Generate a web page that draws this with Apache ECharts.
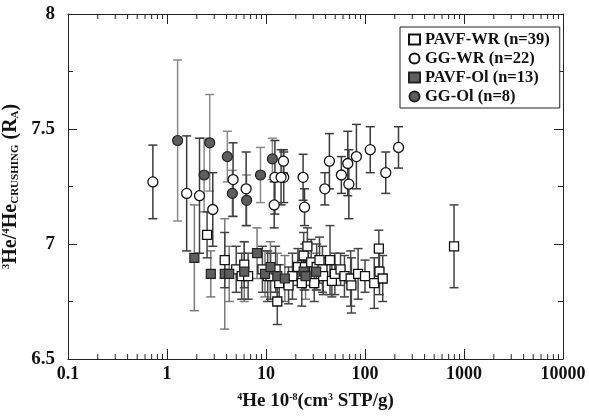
<!DOCTYPE html>
<html>
<head>
<meta charset="utf-8">
<script src="https://cdn.jsdelivr.net/npm/echarts@6/dist/echarts.min.js"></script>
<style>
  html, body { margin: 0; padding: 0; background: #fff; }
  #chart { width: 589px; height: 419px; }
</style>
</head>
<body>
<div id="chart"></div>
<script>
// PAVF-WR (open squares)
var pavfWrX = [2.54, 3.83, 5.0, 5.68, 6.03, 6.6, 9.2, 10.4, 11.1, 12.5, 13.0, 13.6, 16.9, 18.5, 21, 23, 24.0, 24.7, 26.2, 28.6,
  30.7, 32.5, 34.7, 37.2, 37.8, 44.3, 46.3, 49.6, 56.6, 62, 71.6, 72.9, 85.2, 100, 124, 138, 140, 151, 793];
var pavfWrY = [7.04, 6.93, 6.89, 6.86, 6.91, 6.86, 6.89, 6.86, 6.86, 6.89, 6.75, 6.83, 6.82, 6.86, 6.90, 6.83, 6.95, 6.90, 6.99, 6.92,
  6.83, 6.90, 6.93, 6.89, 6.86, 6.93, 6.84, 6.87, 6.89, 6.86, 6.85, 6.82, 6.87, 6.86, 6.83, 6.98, 6.88, 6.85, 6.99];
var pavfWrErr = [0.10, 0.12, 0.10, 0.10, 0.10, 0.10, 0.10, 0.11, 0.10, 0.10, 0.10, 0.08, 0.08, 0.10, 0.08, 0.10, 0.10, 0.10, 0.08, 0.10,
  0.08, 0.10, 0.10, 0.10, 0.08, 0.15, 0.07, 0.09, 0.07, 0.09, 0.12, 0.12, 0.11, 0.07, 0.11, 0.08, 0.10, 0.10, 0.18];

// GG-WR (open circles)
var ggWrX = [0.72, 1.58, 2.13, 2.90, 4.65, 6.3, 12.1, 12.3, 15.0, 15.1, 23.7, 24.5, 39.3, 43.7, 57.7, 67, 68.7, 81.9, 113, 162, 218, 14.2];
var ggWrY = [7.27, 7.22, 7.21, 7.15, 7.28, 7.24, 7.17, 7.29, 7.36, 7.29, 7.29, 7.16, 7.24, 7.36, 7.30, 7.35, 7.26, 7.38, 7.41, 7.31, 7.42, 7.29];
var ggWrErr = [0.16, 0.25, 0.25, 0.16, 0.16, 0.16, 0.10, 0.16, 0.05, 0.11, 0.10, 0.08, 0.07, 0.12, 0.08, 0.14, 0.15, 0.14, 0.10, 0.09, 0.09, 0.12];

// PAVF-Ol (dark squares)
var pavfOlX = [1.89, 2.77, 3.83, 4.25, 6.03, 8.12, 9.77, 11.1, 13.0, 15.5, 24.0, 25.1, 32.1];
var pavfOlY = [6.94, 6.87, 6.87, 6.87, 6.88, 6.96, 6.87, 6.90, 6.86, 6.85, 6.88, 6.86, 6.88];
var pavfOlErr = [0.23, 0.10, 0.24, 0.12, 0.13, 0.11, 0.10, 0.11, 0.10, 0.10, 0.08, 0.10, 0.08];

// GG-Ol (dark circles)
var ggOlX = [1.28, 2.37, 2.70, 4.07, 4.57, 6.37, 8.8, 11.6];
var ggOlY = [7.45, 7.30, 7.44, 7.38, 7.22, 7.19, 7.30, 7.37];
var ggOlErr = [0.35, 0.16, 0.21, 0.11, 0.10, 0.11, 0.12, 0.09];

var xMinorTicks = [];
[0.1, 1, 10, 100, 1000].forEach(function (d) {
  for (var k = 2; k <= 9; k++) xMinorTicks.push(d * k);
});

var font = 'Liberation Serif';

function zip(xs, ys, es) {
  return xs.map(function (x, i) { return es ? [x, ys[i], es[i]] : [x, ys[i]]; });
}

// 误差线
function errorSeries(data, color) {
  return {
    type: 'custom',
    silent: true,
    z: 2,
    renderItem: function (params, api) {
      var x = api.value(0), y = api.value(1), e = api.value(2);
      var hi = api.coord([x, y + e]);
      var lo = api.coord([x, y - e]);
      var w = 4.5;
      var st = { stroke: color, lineWidth: 1.5 };
      return {
        type: 'group',
        children: [
          { type: 'line', shape: { x1: hi[0], y1: hi[1], x2: lo[0], y2: lo[1] }, style: st },
          { type: 'line', shape: { x1: hi[0] - w, y1: hi[1], x2: hi[0] + w, y2: hi[1] }, style: st },
          { type: 'line', shape: { x1: lo[0] - w, y1: lo[1], x2: lo[0] + w, y2: lo[1] }, style: st }
        ]
      };
    },
    encode: { x: 0, y: 1 },
    data: data
  };
}

var chart = echarts.init(document.getElementById('chart'));

var option = {
  animation: false,
  backgroundColor: '#fff',
  grid: { left: 68, right: 26, top: 14, bottom: 60, outerBoundsMode: 'none', containLabel: false },
  legend: {
    orient: 'vertical',
    left: 400,
    top: 27,
    padding: [4, 10, 3, 8],
    itemGap: 2,
    itemWidth: 11,
    itemHeight: 10,
    borderColor: '#222',
    borderWidth: 1,
    backgroundColor: '#fff',
    textStyle: { fontFamily: font, fontWeight: 'bold', fontSize: 16.5, color: '#111' },
    data: ['PAVF-WR (n=39)', 'GG-WR (n=22)', 'PAVF-Ol (n=13)', 'GG-Ol (n=8)']
  },
  xAxis: [{
    type: 'log',
    logBase: 10,
    min: 0.1,
    max: 10000,
    name: '{sup|4}He 10{sup|-8}(cm{sup|3} STP/g)',
    nameLocation: 'middle',
    nameGap: 33,
    nameTextStyle: {
      fontFamily: font, fontWeight: 'bold', fontSize: 19, color: '#111',
      rich: {
        sup: { fontFamily: font, fontWeight: 'bold', fontSize: 10, verticalAlign: 'top', lineHeight: 10, padding: [0, 0, 9, 0] }
      }
    },
    axisLine: { lineStyle: { color: '#222', width: 1 } },
    axisTick: { inside: true, length: 10, lineStyle: { color: '#222' } },
    axisLabel: {
      fontFamily: font, fontWeight: 'bold', fontSize: 18, color: '#111', margin: 6,
      formatter: function (v) { return String(Number(v.toPrecision(3))); }
    },
    splitLine: { show: false }
  }, {
    type: 'log',
    logBase: 10,
    min: 0.1,
    max: 10000,
    position: 'top',
    axisLine: { lineStyle: { color: '#222', width: 1 } },
    axisTick: { inside: true, length: 10, lineStyle: { color: '#222' } },
    axisLabel: { show: false },
    splitLine: { show: false }
  }],
  yAxis: [{
    type: 'value',
    min: 6.5,
    max: 8,
    interval: 0.5,
    name: '{sup|3}He/{sup|4}He{sub|CRUSHING} (R{sub|A})',
    nameLocation: 'middle',
    nameGap: 44,
    nameTextStyle: {
      fontFamily: font, fontWeight: 'bold', fontSize: 20, color: '#111',
      rich: {
        sup: { fontFamily: font, fontWeight: 'bold', fontSize: 11, verticalAlign: 'top', padding: [0, 0, 9, 0] },
        sub: { fontFamily: font, fontWeight: 'bold', fontSize: 11, verticalAlign: 'bottom', padding: [7, 0, 0, 0] }
      }
    },
    axisLine: { show: true, lineStyle: { color: '#222', width: 1 } },
    axisTick: { inside: true, length: 9, lineStyle: { color: '#222' } },
    minorTick: { show: true, splitNumber: 2, length: 5, lineStyle: { color: '#222' } },
    axisLabel: { fontFamily: font, fontWeight: 'bold', fontSize: 19, color: '#111', margin: 13 },
    splitLine: { show: false }
  }, {
    type: 'value',
    min: 6.5,
    max: 8,
    interval: 0.5,
    position: 'right',
    axisLine: { show: true, lineStyle: { color: '#222', width: 1 } },
    axisTick: { inside: true, length: 9, lineStyle: { color: '#222' } },
    minorTick: { show: true, splitNumber: 2, length: 5, lineStyle: { color: '#222' } },
    axisLabel: { show: false },
    splitLine: { show: false }
  }],
  series: [
    // 对数轴的次刻度
    {
      type: 'custom',
      silent: true,
      z: 1,
      renderItem: function (params, api) {
        var p = api.coord([api.value(0), 7]);
        var cs = params.coordSys;
        var st = { stroke: '#222', lineWidth: 1 };
        return {
          type: 'group',
          children: [
            { type: 'line', shape: { x1: p[0], y1: cs.y + cs.height, x2: p[0], y2: cs.y + cs.height - 5 }, style: st },
            { type: 'line', shape: { x1: p[0], y1: cs.y, x2: p[0], y2: cs.y + 5 }, style: st }
          ]
        };
      },
      encode: { x: 0 },
      data: xMinorTicks.map(function (v) { return [v]; })
    },
    errorSeries(zip(ggOlX, ggOlY, ggOlErr), '#8a8a8a'),
    errorSeries(zip(pavfOlX, pavfOlY, pavfOlErr), '#7a7a7a'),
    errorSeries(zip(ggWrX, ggWrY, ggWrErr), '#3a3a3a'),
    errorSeries(zip(pavfWrX, pavfWrY, pavfWrErr), '#444'),
    {
      name: 'PAVF-WR (n=39)',
      type: 'scatter',
      symbol: 'rect',
      symbolSize: 9,
      z: 3,
      itemStyle: { color: '#fff', borderColor: '#111', borderWidth: 1.3, opacity: 1 },
      data: zip(pavfWrX, pavfWrY)
    },
    {
      name: 'GG-WR (n=22)',
      type: 'scatter',
      symbol: 'circle',
      symbolSize: 10,
      z: 3,
      itemStyle: { color: '#fff', borderColor: '#111', borderWidth: 1.3, opacity: 1 },
      data: zip(ggWrX, ggWrY)
    },
    {
      name: 'PAVF-Ol (n=13)',
      type: 'scatter',
      symbol: 'rect',
      symbolSize: 9,
      z: 4,
      itemStyle: { color: '#5e5e5e', borderColor: '#222', borderWidth: 1.2, opacity: 1 },
      data: zip(pavfOlX, pavfOlY)
    },
    {
      name: 'GG-Ol (n=8)',
      type: 'scatter',
      symbol: 'circle',
      symbolSize: 10,
      z: 4,
      itemStyle: { color: '#5e5e5e', borderColor: '#222', borderWidth: 1.2, opacity: 1 },
      data: zip(ggOlX, ggOlY)
    }
  ]
};

chart.setOption(option);
</script>
</body>
</html>
